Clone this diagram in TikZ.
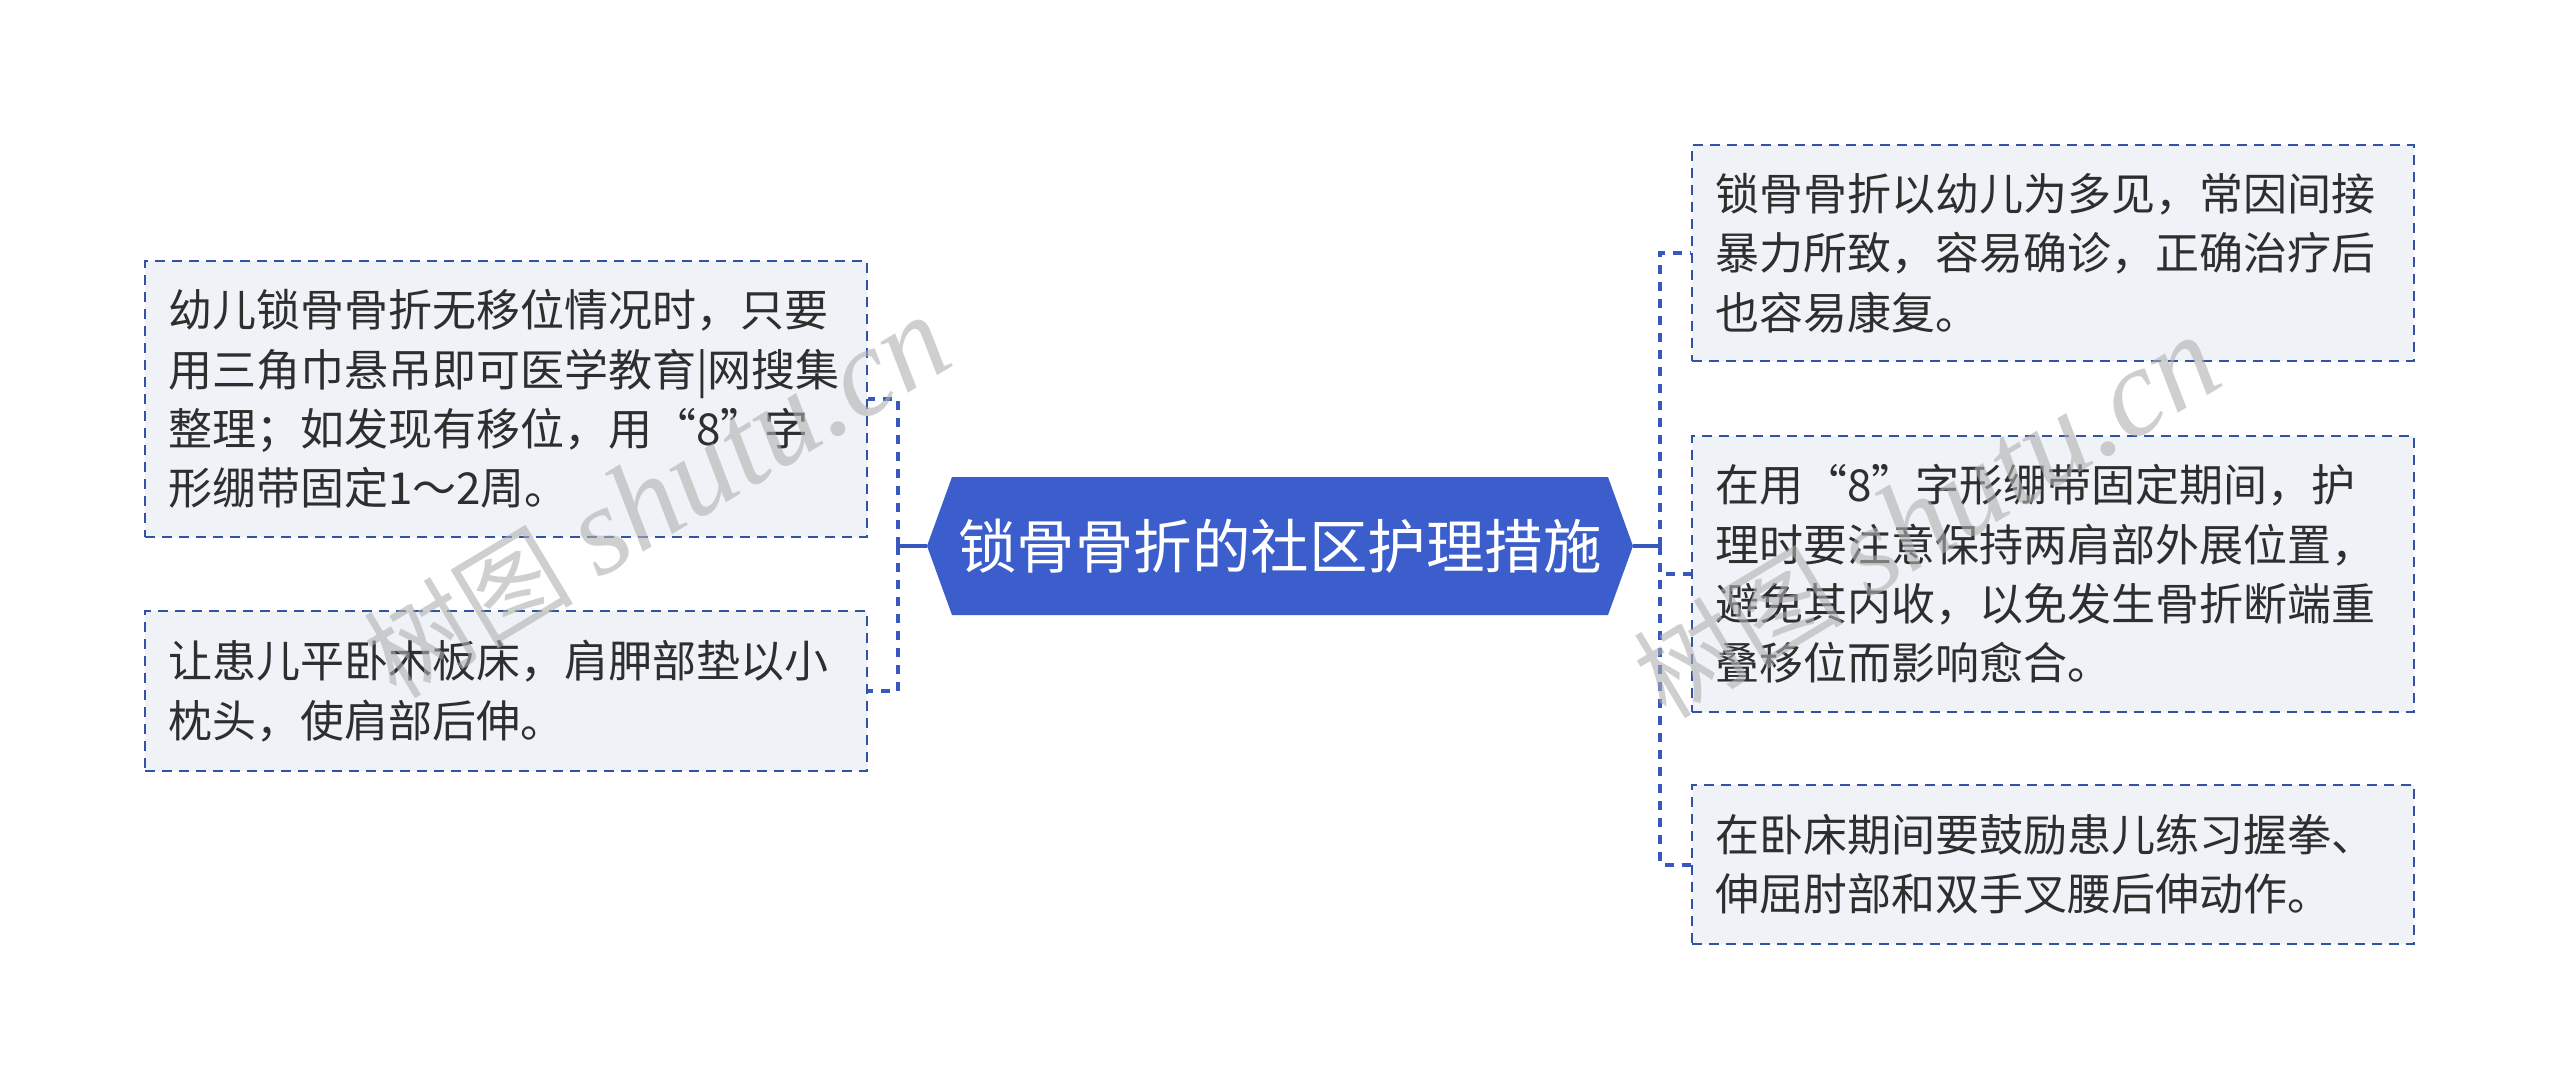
\documentclass[tikz,border=0pt]{standalone}
\usepackage{fontspec}
\newfontfamily\cjk{Noto Sans CJK SC}
\newfontfamily\wmserif{Liberation Serif}
\definecolor{boxline}{HTML}{3152A5}
\definecolor{boxfill}{HTML}{EFF2F6}
\definecolor{connc}{HTML}{3857BF}
\definecolor{rootfill}{HTML}{3B5ECC}
\definecolor{txt}{HTML}{2E2E2E}
\definecolor{wmc}{HTML}{B0B0B0}
\begin{document}
\begin{tikzpicture}[x=1pt,y=-1pt,
  box/.style={draw=boxline, line width=2.8pt, dash pattern=on 10pt off 7pt,
    fill=boxfill, text=txt, inner xsep=23pt, inner ysep=0pt, text width=676pt,
    align=left, font=\cjk\fontsize{44}{59.4}\selectfont},
  conn/.style={draw=connc, line width=4pt, dash pattern=on 9pt off 8pt},
  trunk/.style={draw=connc, line width=4pt},
  roottext/.style={text=white, inner sep=0pt, font=\cjk\fontsize{58.5}{60}\selectfont},
  wm/.style={text=wmc, opacity=0.6, inner sep=0pt}
]
\useasboundingbox[fill=white] (0,0) rectangle (2560,1091);

% root hexagon
\fill[rootfill] (927,546) -- (952,477) -- (1608,477) -- (1633,546) -- (1608,615) -- (952,615) -- cycle;
\node[roottext] (root) at (1280,546) {锁骨骨折的社区护理措施};
\coordinate (rootW) at (927,546);
\coordinate (rootE) at (1633,546);
\coordinate (lt) at (898,546);
\coordinate (rt) at (1660,546);

% left boxes
\node[box, minimum height=276pt] (L1) at (506,399) {幼儿锁骨骨折无移位情况时，只要\\用三角巾悬吊即可医学教育|网搜集\\整理；如发现有移位，用“8”字\\形绷带固定1～2周。};
\node[box, minimum height=160pt] (L2) at (506,691) {让患儿平卧木板床，肩胛部垫以小\\枕头，使肩部后伸。};

% right boxes
\node[box, minimum height=216pt] (R1) at (2053,253) {锁骨骨折以幼儿为多见，常因间接\\暴力所致，容易确诊，正确治疗后\\也容易康复。};
\node[box, minimum height=276pt] (R2) at (2053,574) {在用“8”字形绷带固定期间，护\\理时要注意保持两肩部外展位置，\\避免其内收，以免发生骨折断端重\\叠移位而影响愈合。};
\node[box, minimum height=159pt] (R3) at (2053,864.5) {在卧床期间要鼓励患儿练习握拳、\\伸屈肘部和双手叉腰后伸动作。};

% connectors
\draw[trunk] (rootW) -- (lt);
\draw[conn] (lt) |- (L1.east);
\draw[conn] (lt) |- (L2.east);
\draw[trunk] (rootE) -- (rt);
\draw[conn] (rt) |- (R1.west);
\draw[conn] (rt) |- (R2.west);
\draw[conn] (rt) |- (R3.west);

% watermarks
\node[wm, rotate=31] (wm1) at (657,498) {{\cjk\fontsize{105}{105}\selectfont 树图}\hspace{25pt}{\wmserif\itshape\fontsize{125}{125}\selectfont shutu.cn}};
\node[wm, rotate=31] (wm2) at (1927,518) {{\cjk\fontsize{105}{105}\selectfont 树图}\hspace{25pt}{\wmserif\itshape\fontsize{125}{125}\selectfont shutu.cn}};
\end{tikzpicture}
\end{document}
